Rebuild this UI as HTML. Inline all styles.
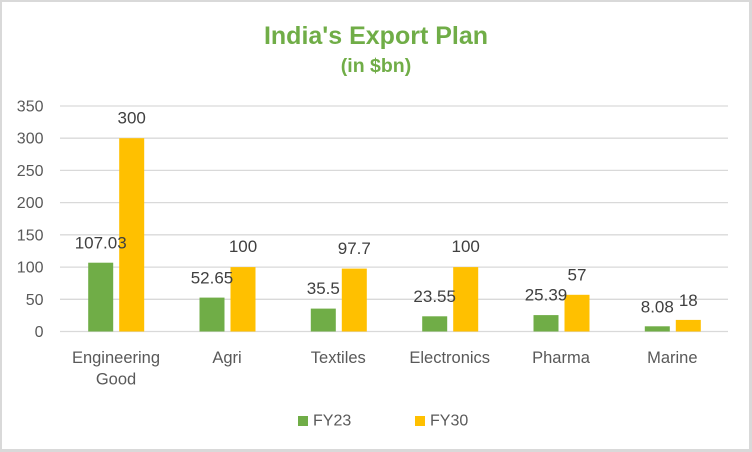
<!DOCTYPE html>
<html>
<head>
<meta charset="utf-8">
<style>
  html, body { margin: 0; padding: 0; background: #d9d9d9; }
  .wrap { width: 752px; height: 452px; position: relative; overflow: hidden; background: #d9d9d9; }
  svg { position: absolute; left: 0; top: 0; }
  text { font-family: "Liberation Sans", Arial, sans-serif; }
</style>
</head>
<body>
<div class="wrap">
<svg width="752" height="452" viewBox="0 0 752 452" xmlns="http://www.w3.org/2000/svg">
  <rect x="2" y="2" width="747" height="447" fill="#ffffff"/>

  <!-- Title -->
  <text x="376" y="44" text-anchor="middle" font-size="25" font-weight="bold" fill="#70AD47">India's Export Plan</text>
  <text x="376" y="72" text-anchor="middle" font-size="19.5" font-weight="bold" fill="#70AD47">(in $bn)</text>

  <!-- Gridlines -->
  <g stroke="#d9d9d9" stroke-width="1.3">
    <line x1="60" y1="106" x2="728" y2="106"/>
    <line x1="60" y1="138.2" x2="728" y2="138.2"/>
    <line x1="60" y1="170.4" x2="728" y2="170.4"/>
    <line x1="60" y1="202.6" x2="728" y2="202.6"/>
    <line x1="60" y1="234.8" x2="728" y2="234.8"/>
    <line x1="60" y1="267.1" x2="728" y2="267.1"/>
    <line x1="60" y1="299.3" x2="728" y2="299.3"/>
    <line x1="60" y1="331.5" x2="728" y2="331.5"/>
  </g>

  <!-- Y tick labels -->
  <g font-size="16" fill="#595959" text-anchor="end">
    <text x="43.5" y="111.5">350</text>
    <text x="43.5" y="143.7">300</text>
    <text x="43.5" y="175.9">250</text>
    <text x="43.5" y="208.1">200</text>
    <text x="43.5" y="240.3">150</text>
    <text x="43.5" y="272.6">100</text>
    <text x="43.5" y="304.8">50</text>
    <text x="43.5" y="337">0</text>
  </g>

  <!-- Bars FY23 (green) -->
  <g fill="#70AD47">
    <rect x="88.2" y="262.7" width="25" height="68.8"/>
    <rect x="199.5" y="297.6" width="25" height="33.9"/>
    <rect x="310.8" y="308.6" width="25" height="22.9"/>
    <rect x="422.2" y="316.3" width="25" height="15.2"/>
    <rect x="533.5" y="315.1" width="25" height="16.4"/>
    <rect x="644.8" y="326.3" width="25" height="5.2"/>
  </g>
  <!-- Bars FY30 (orange) -->
  <g fill="#FFC000">
    <rect x="119.2" y="138.2" width="25" height="193.3"/>
    <rect x="230.5" y="267.1" width="25" height="64.4"/>
    <rect x="341.8" y="268.6" width="25" height="62.9"/>
    <rect x="453.2" y="267.1" width="25" height="64.4"/>
    <rect x="564.5" y="294.8" width="25" height="36.7"/>
    <rect x="675.8" y="319.9" width="25" height="11.6"/>
  </g>

  <!-- Data labels -->
  <g font-size="17" fill="#404040" text-anchor="middle">
    <text x="100.7" y="248.5">107.03</text>
    <text x="131.7" y="123.5">300</text>
    <text x="212" y="283.3">52.65</text>
    <text x="243" y="252">100</text>
    <text x="323.3" y="294">35.5</text>
    <text x="354.3" y="254">97.7</text>
    <text x="434.7" y="301.8">23.55</text>
    <text x="465.7" y="252">100</text>
    <text x="546" y="300.6">25.39</text>
    <text x="577" y="280.3">57</text>
    <text x="657.3" y="312.7">8.08</text>
    <text x="688.3" y="306">18</text>
  </g>

  <!-- Category labels -->
  <g font-size="16.5" fill="#595959" text-anchor="middle">
    <text x="116" y="363">Engineering</text>
    <text x="116" y="384.5">Good</text>
    <text x="227" y="363">Agri</text>
    <text x="338.3" y="363">Textiles</text>
    <text x="449.7" y="363">Electronics</text>
    <text x="561" y="363">Pharma</text>
    <text x="672.3" y="363">Marine</text>
  </g>

  <!-- Legend -->
  <rect x="298" y="416" width="10" height="10" fill="#70AD47"/>
  <text x="313" y="425.5" font-size="16" fill="#595959">FY23</text>
  <rect x="415" y="416" width="10" height="10" fill="#FFC000"/>
  <text x="430" y="425.5" font-size="16" fill="#595959">FY30</text>
</svg>
</div>
</body>
</html>
